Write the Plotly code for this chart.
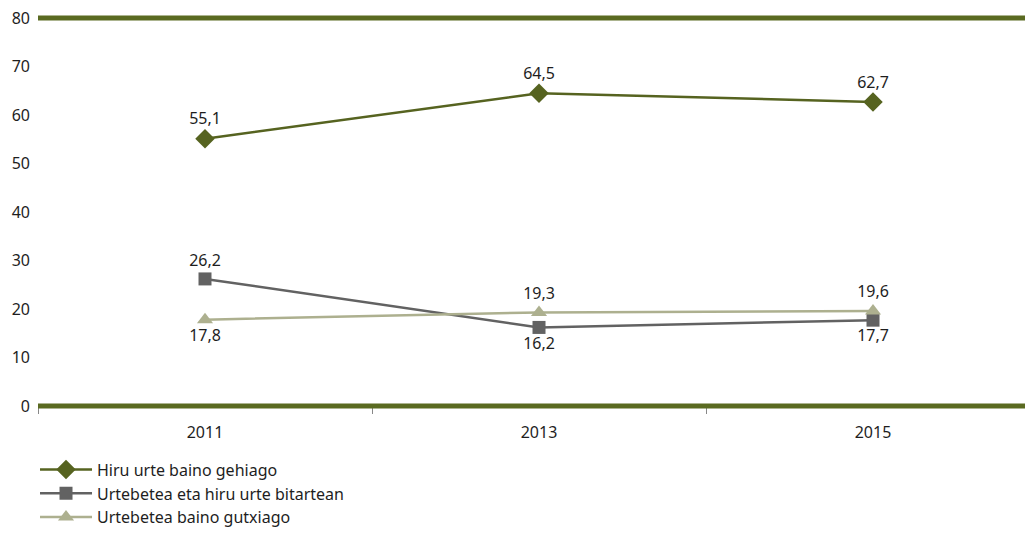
import plotly.graph_objects as go

years = ["2011", "2013", "2015"]
s1_name = "Hiru urte baino gehiago"
s2_name = "Urtebetea eta hiru urte bitartean"
s3_name = "Urtebetea baino gutxiago"
s1 = [55.1, 64.5, 62.7]
s2 = [26.2, 16.2, 17.7]
s3 = [17.8, 19.3, 19.6]
s2_pos = ["top center", "bottom center", "bottom center"]
s3_pos = ["bottom center", "top center", "top center"]

def lab(v):
    return [f"{x:.1f}".replace(".", ",") for x in v]

FONT = "Noto Sans"
FS = 16
fig = go.Figure()
fig.add_trace(go.Scatter(x=years, y=s1, name=s1_name, mode="lines+markers+text",
                         line=dict(color="#566320", width=2.5),
                         marker=dict(symbol="diamond", size=15, color="#566320"),
                         text=lab(s1), textposition="top center",
                         textfont=dict(size=FS, color="#1e1e1e", family=FONT)))
fig.add_trace(go.Scatter(x=years, y=s2, name=s2_name, mode="lines+markers+text",
                         line=dict(color="#626262", width=2.5),
                         marker=dict(symbol="square", size=13, color="#626262"),
                         text=lab(s2), textposition=s2_pos,
                         textfont=dict(size=FS, color="#1e1e1e", family=FONT)))
fig.add_trace(go.Scatter(x=years, y=s3, name=s3_name, mode="lines+markers+text",
                         line=dict(color="#adb08f", width=2.5),
                         marker=dict(symbol="triangle-up", size=14, color="#adb08f"),
                         text=lab(s3), textposition=s3_pos,
                         textfont=dict(size=FS, color="#1e1e1e", family=FONT)))

for yv in (0, 1):
    fig.add_shape(type="line", xref="paper", yref="paper", x0=0, x1=1.01, y0=yv, y1=yv,
                  line=dict(color="#5a6a21", width=5), layer="above")

fig.update_layout(
    width=1025, height=528,
    margin=dict(l=30, r=0, t=10, b=130, autoexpand=False),
    paper_bgcolor="white", plot_bgcolor="white",
    font=dict(family=FONT, size=FS, color="#1e1e1e"),
    showlegend=True,
    legend=dict(orientation="v", x=-0.003, xanchor="left", y=-0.12, yanchor="top",
                font=dict(size=FS, family=FONT), itemwidth=52),
    xaxis=dict(type="category", range=[-0.5, 2.479], showgrid=False, showline=False,
               ticks="outside", tickson="boundaries", ticklen=7, tickcolor="#888888",
               tickfont=dict(size=FS), zeroline=False, automargin=False,
               ticklabelstandoff=15),
    yaxis=dict(range=[0, 80], dtick=10, showgrid=False, showline=False, zeroline=False,
               tickfont=dict(size=FS), ticklabelstandoff=7, automargin=False,
               ticklabeloverflow="allow"),
)
fig.write_html("out.html")
